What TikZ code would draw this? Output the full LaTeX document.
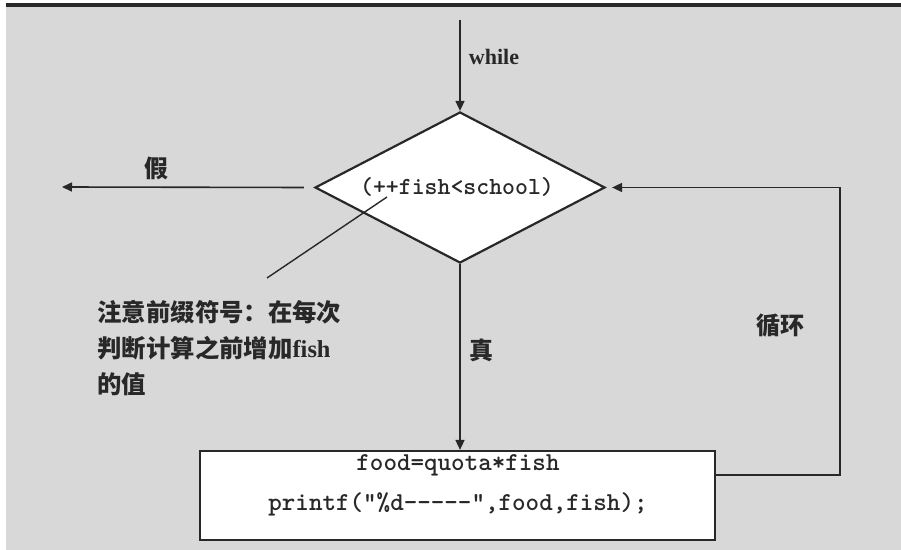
\documentclass[tikz,border=0pt]{standalone}
\usepackage{fontspec}
\setmainfont{Liberation Serif}
\newfontfamily\cjk{Noto Sans CJK SC}
\usetikzlibrary{shapes.geometric,arrows.meta,calc}
\definecolor{bggray}{RGB}{216,216,216}
\definecolor{ink}{RGB}{40,40,40}
\begin{document}
\begin{tikzpicture}[x=0.5pt,y=-0.5pt,
  line/.style={draw=ink,line width=0.8pt},
  arr/.style={line,-{Triangle[length=5pt,width=4.5pt]}},
  lab/.style={text=ink,font=\cjk\bfseries\fontsize{12}{14}\selectfont,inner sep=0pt},
  code/.style={text=ink,font=\ttfamily\bfseries\fontsize{12.9}{20}\selectfont},
  decision/.style={diamond,draw=ink,line width=1.1pt,fill=white,inner sep=0pt,aspect=1.92,minimum width=145pt,minimum height=75.5pt},
  stepbox/.style={rectangle,draw=ink,line width=1.1pt,fill=white,minimum width=257.5pt,minimum height=44.5pt,inner sep=0pt}]
\useasboundingbox (0,0) rectangle (901,550);
\fill[white] (0,0) rectangle (901,550);
\fill[bggray] (6,6) rectangle (901,550);
\fill[ink] (6,3) rectangle (901,7);
% nodes
\node[decision] (d) at (460,187.5) {};
\node[code,font=\ttfamily\bfseries\fontsize{12.3}{14}\selectfont] (dtext) at (457,187) {(++fish<school)};
\node[stepbox] (box) at (457.5,495.5) {};
\node[code,align=center] (btext) at (458,485) {food=quota*fish\\printf("\%d-----",food,fish);};
\coordinate (wtop) at (460,20);
\coordinate (ftip) at (62,187);
\coordinate (n1) at (267,278);
\coordinate (n2) at (387,197);
\coordinate (loopb) at (840,475);
% labels
\node[text=ink,font=\bfseries\fontsize{11}{13}\selectfont,inner sep=0pt] (wl) at (494,57) {while};
\node[lab] (fl) at (156,168) {假};
\node[lab] (tl) at (481,350) {真};
\node[lab] (ll) at (780,326) {循环};
\node[lab,anchor=north west,align=left,font=\cjk\bfseries\fontsize{12.2}{18}\selectfont] (note) at (97,300)
  {注意前缀符号：在每次\\判断计算之前增加{\rmfamily\bfseries fish}\\的值};
% connectors
\draw[arr] (wtop) -- (d.north);
\draw[arr] ([xshift=-5pt]d.west) -- (ftip);
\draw[line,line width=0.7pt] (n1) -- (n2);
\draw[arr] (d.south) -- (d.south |- box.north);
\draw[arr,shorten >=3pt] (loopb -| box.east) -- (loopb) -- (loopb |- d.east) -- (d.east);
\end{tikzpicture}
\end{document}
